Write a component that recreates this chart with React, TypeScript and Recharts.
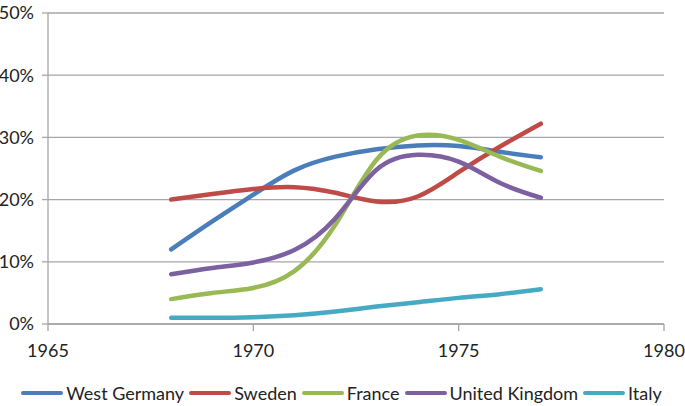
import React from 'react';
import {
  LineChart,
  Line,
  XAxis,
  YAxis,
  CartesianGrid,
  Legend,
} from 'recharts';

// values, one per year 1968-1977 (percent)
const years = [1968, 1969, 1970, 1971, 1972, 1973, 1974, 1975, 1976, 1977];
const westGermany = [12, 16.5, 20.8, 24.7, 26.9, 28.1, 28.7, 28.6, 27.7, 26.8];
const sweden = [20, 20.9, 21.7, 22.0, 21.1, 19.7, 20.5, 24.4, 28.5, 32.2];
const france = [4, 5, 5.8, 8.5, 16, 26.4, 30.3, 29.6, 26.9, 24.6];
const unitedKingdom = [8, 9, 9.9, 11.9, 17, 24.8, 27.2, 26.1, 22.7, 20.3];
const italy = [1, 1, 1.1, 1.4, 2.0, 2.8, 3.5, 4.2, 4.8, 5.6];

const xTicks = [1965, 1970, 1975, 1980];
const yTicks = [0, 10, 20, 30, 40, 50];

const series = [
  { key: 'West Germany', color: '#4a7ebb', values: westGermany },
  { key: 'Sweden', color: '#be4b48', values: sweden },
  { key: 'France', color: '#98b954', values: france },
  { key: 'United Kingdom', color: '#7d60a0', values: unitedKingdom },
  { key: 'Italy', color: '#46aac5', values: italy },
];

const data = years.map((year, i) => {
  const row: Record<string, number> = { year };
  series.forEach((s) => {
    row[s.key] = s.values[i];
  });
  return row;
});

const FONT = 'Lato, sans-serif';
const GRID = '#a6a6a6';

function LegendRow() {
  return (
    <div
      style={{
        height: 40,
        display: 'flex',
        justifyContent: 'center',
        alignItems: 'center',
        paddingTop: 13,
        paddingLeft: 24,
        boxSizing: 'border-box',
        fontFamily: FONT,
        fontSize: 18,
        color: '#222',
        whiteSpace: 'nowrap',
      }}
    >
      {series.map((s) => (
        <div key={s.key} style={{ display: 'flex', alignItems: 'center', marginRight: 5 }}>
          <span
            style={{
              display: 'inline-block',
              width: 42,
              height: 4,
              borderRadius: 2,
              background: s.color,
              marginRight: 3,
            }}
          />
          <span>{s.key}</span>
        </div>
      ))}
    </div>
  );
}

export default function App() {
  return (
    <div style={{ position: 'absolute', left: 0, top: 0, background: '#fff' }}>
      <LineChart
        width={685}
        height={406}
        data={data}
        margin={{ top: 13, right: 21, bottom: 0, left: 0 }}
      >
        <CartesianGrid vertical={false} stroke={GRID} strokeWidth={1.3} />
        <XAxis
          dataKey="year"
          type="number"
          domain={[1965, 1980]}
          ticks={xTicks}
          height={42}
          tickSize={7}
          tickMargin={13}
          axisLine={{ stroke: GRID, strokeWidth: 1.3 }}
          tickLine={{ stroke: GRID, strokeWidth: 1.3 }}
          tick={{ fill: '#222', fontSize: 18, fontFamily: FONT }}
        />
        <YAxis
          domain={[0, 50]}
          ticks={yTicks}
          width={48}
          tickSize={6}
          tickMargin={8}
          tickFormatter={(v) => `${v}%`}
          axisLine={{ stroke: GRID, strokeWidth: 1.3 }}
          tickLine={{ stroke: GRID, strokeWidth: 1.3 }}
          tick={{ fill: '#222', fontSize: 18, fontFamily: FONT }}
        />
        <Legend verticalAlign="bottom" height={40} content={() => <LegendRow />} />
        {series.map((s) => (
          <Line
            key={s.key}
            type="natural"
            dataKey={s.key}
            stroke={s.color}
            strokeWidth={4.5}
            strokeLinecap="round"
            dot={false}
            activeDot={false}
            isAnimationActive={false}
          />
        ))}
      </LineChart>
    </div>
  );
}
